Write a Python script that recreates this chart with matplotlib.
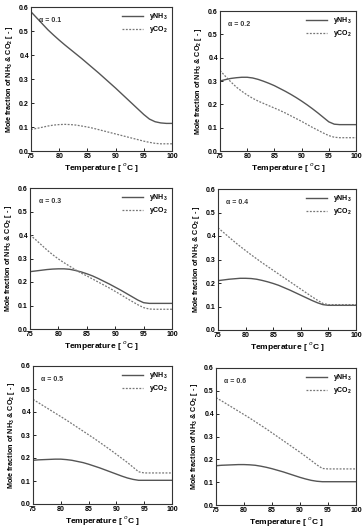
import matplotlib
matplotlib.use("Agg")
import matplotlib.pyplot as plt

plt.rcParams["font.family"] = ["Liberation Sans", "DejaVu Sans"]
plt.rcParams["mathtext.fontset"] = "custom"
plt.rcParams["mathtext.rm"] = "Liberation Sans:bold"
plt.rcParams["mathtext.bf"] = "Liberation Sans:bold"

W, H = 362, 529

# temperature grid (°C)
T = [75, 76, 77, 78, 79, 80, 81, 82, 83, 84, 85, 86, 87, 88, 89, 90,
     91, 92, 93, 94, 95, 96, 97, 98, 99, 100]

alphas = ["0.1", "0.2", "0.3", "0.4", "0.5", "0.6"]

nh3_01 = [0.580, 0.555, 0.530, 0.505, 0.483, 0.462, 0.442, 0.423, 0.404, 0.385,
          0.365, 0.345, 0.325, 0.304, 0.283, 0.262, 0.240, 0.218, 0.196, 0.174,
          0.152, 0.133, 0.122, 0.117, 0.115, 0.115]
co2_01 = [0.090, 0.094, 0.099, 0.104, 0.108, 0.110, 0.111, 0.110, 0.108, 0.104,
          0.100, 0.095, 0.089, 0.083, 0.077, 0.071, 0.065, 0.059, 0.053, 0.047,
          0.041, 0.036, 0.032, 0.030, 0.030, 0.030]

nh3_02 = [0.300, 0.306, 0.311, 0.314, 0.316, 0.316, 0.313, 0.307, 0.299, 0.290,
          0.280, 0.268, 0.256, 0.243, 0.229, 0.214, 0.198, 0.181, 0.163, 0.144,
          0.125, 0.115, 0.113, 0.113, 0.113, 0.113]
co2_02 = [0.345, 0.320, 0.296, 0.274, 0.256, 0.240, 0.226, 0.214, 0.204, 0.194,
          0.184, 0.174, 0.163, 0.151, 0.139, 0.127, 0.114, 0.101, 0.089, 0.077,
          0.066, 0.059, 0.057, 0.057, 0.057, 0.057]

nh3_03 = [0.244, 0.247, 0.250, 0.253, 0.255, 0.256, 0.256, 0.254, 0.249, 0.243,
          0.235, 0.226, 0.215, 0.203, 0.191, 0.178, 0.165, 0.151, 0.137, 0.123,
          0.112, 0.109, 0.109, 0.109, 0.109, 0.109]
co2_03 = [0.400, 0.380, 0.358, 0.336, 0.316, 0.298, 0.282, 0.267, 0.252, 0.238,
          0.226, 0.213, 0.200, 0.187, 0.174, 0.160, 0.146, 0.131, 0.117, 0.103,
          0.091, 0.085, 0.084, 0.084, 0.084, 0.084]

nh3_04 = [0.210, 0.213, 0.216, 0.218, 0.220, 0.220, 0.219, 0.216, 0.211, 0.205,
          0.198, 0.190, 0.180, 0.170, 0.159, 0.148, 0.137, 0.126, 0.116, 0.108,
          0.105, 0.105, 0.105, 0.105, 0.105, 0.105]
co2_04 = [0.435, 0.415, 0.395, 0.375, 0.356, 0.338, 0.320, 0.303, 0.286, 0.270,
          0.254, 0.238, 0.222, 0.206, 0.190, 0.174, 0.158, 0.142, 0.127, 0.113,
          0.108, 0.108, 0.108, 0.108, 0.108, 0.108]

nh3_05 = [0.190, 0.192, 0.193, 0.194, 0.195, 0.195, 0.193, 0.190, 0.185, 0.180,
          0.173, 0.165, 0.157, 0.148, 0.139, 0.130, 0.121, 0.113, 0.107, 0.103,
          0.103, 0.103, 0.103, 0.103, 0.103, 0.103]
co2_05 = [0.455, 0.440, 0.425, 0.410, 0.395, 0.380, 0.365, 0.349, 0.333, 0.317,
          0.301, 0.285, 0.268, 0.251, 0.234, 0.216, 0.198, 0.180, 0.160, 0.140,
          0.135, 0.135, 0.135, 0.135, 0.135, 0.135]

nh3_06 = [0.172, 0.174, 0.175, 0.176, 0.177, 0.177, 0.176, 0.174, 0.170, 0.165,
          0.159, 0.152, 0.145, 0.137, 0.129, 0.121, 0.114, 0.108, 0.104, 0.102,
          0.102, 0.102, 0.102, 0.102, 0.102, 0.102]
co2_06 = [0.470, 0.456, 0.441, 0.426, 0.411, 0.396, 0.381, 0.365, 0.349, 0.333,
          0.316, 0.299, 0.282, 0.265, 0.248, 0.231, 0.213, 0.195, 0.176, 0.160,
          0.158, 0.158, 0.158, 0.158, 0.158, 0.158]

NH3 = [nh3_01, nh3_02, nh3_03, nh3_04, nh3_05, nh3_06]
CO2 = [co2_01, co2_02, co2_03, co2_04, co2_05, co2_06]

# axes boxes in pixels: left, right, top, bottom
BOXES = [(31, 172, 7, 151), (220, 356, 11, 151),
         (30, 172, 188, 329), (218, 356, 189, 330),
         (33, 172, 366, 504), (216, 356, 368, 505)]

fig = plt.figure(figsize=(W / 100, H / 100), dpi=100)

for i, (l, r, t, b) in enumerate(BOXES):
    ax = fig.add_axes([l / W, 1 - b / H, (r - l) / W, (b - t) / H])
    ax.plot(T, NH3[i], color="#555555", lw=1.0, label=r"yNH$_3$")
    ax.plot(T, CO2[i], color="#777777", lw=0.9, ls=(0, (1.5, 1.2)), label=r"yCO$_2$")
    ax.set_xlim(75, 100)
    ax.set_ylim(0, 0.6)
    ax.set_xticks([75, 80, 85, 90, 95, 100])
    ax.set_yticks([0.0, 0.1, 0.2, 0.3, 0.4, 0.5, 0.6])
    ax.tick_params(direction="in", length=2, width=0.6, labelsize=5, pad=1.5)
    for lab in ax.get_xticklabels() + ax.get_yticklabels():
        lab.set_fontweight("bold")
    for s in ax.spines.values():
        s.set_linewidth(0.8)
        s.set_color("#333333")
    ax.set_xlabel("Temperature [ $^{o}$C ]", fontsize=6, fontweight="bold", labelpad=1)
    ax.set_ylabel(r"Mole fraction of NH$_3$ & CO$_2$ [ - ]", fontsize=5.2,
                  fontweight="bold", labelpad=3)
    ax.text(0.06, 0.93, f"α = {alphas[i]}", transform=ax.transAxes,
            fontsize=5, fontweight="bold", va="top", ha="left", color="#333333")
    ax.legend(loc="upper right", frameon=False, fontsize=5, handlelength=3,
              borderaxespad=0.2, labelspacing=0.3, markerfirst=True,
              prop={"weight": "bold", "size": 5})

fig.savefig("out.png", dpi=100)
